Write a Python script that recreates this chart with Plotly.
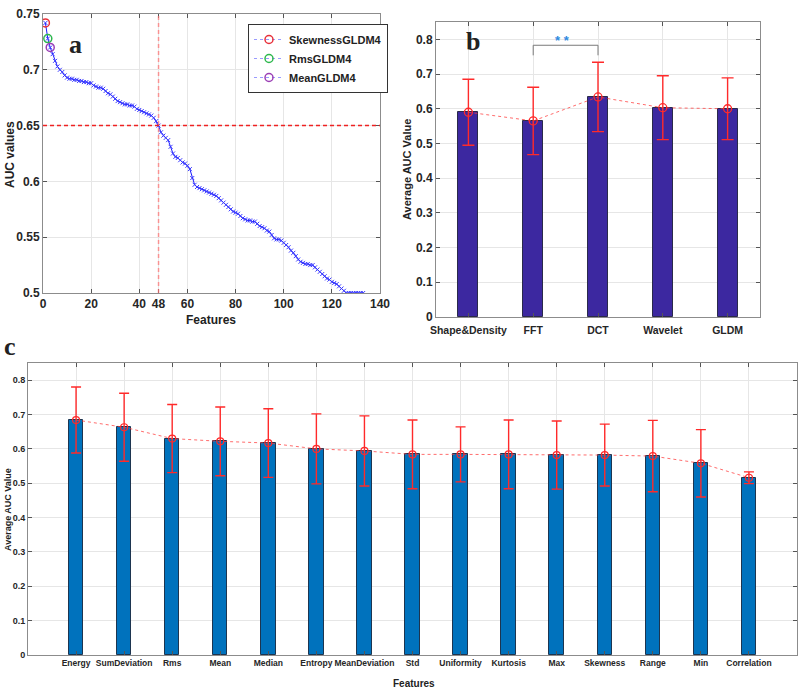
import plotly.graph_objects as go

# ---------------- Panel a data ----------------
auc_sorted = [
    0.742, 0.728, 0.720, 0.714, 0.708, 0.703, 0.700, 0.698, 0.695, 0.693,
    0.692, 0.692, 0.691, 0.691, 0.690, 0.690, 0.689, 0.689, 0.688, 0.688,
    0.686, 0.685, 0.684, 0.684, 0.683, 0.681, 0.679, 0.678, 0.676, 0.674,
    0.672, 0.671, 0.670, 0.669, 0.669, 0.668, 0.668, 0.667, 0.665, 0.664,
    0.663, 0.662, 0.661, 0.660, 0.659, 0.657, 0.654, 0.650, 0.644, 0.641,
    0.639, 0.637, 0.631, 0.625, 0.622, 0.621, 0.619, 0.617, 0.616, 0.614,
    0.611, 0.603, 0.597, 0.595, 0.594, 0.593, 0.592, 0.591, 0.590, 0.589,
    0.588, 0.587, 0.585, 0.583, 0.581, 0.579, 0.577, 0.575, 0.573, 0.572,
    0.571, 0.569, 0.567, 0.566, 0.565, 0.565, 0.564, 0.564, 0.562, 0.560,
    0.559, 0.558, 0.556, 0.555, 0.552, 0.549, 0.548, 0.548, 0.547, 0.545,
    0.543, 0.541, 0.538, 0.536, 0.533, 0.530, 0.528, 0.527, 0.526, 0.526,
    0.525, 0.525, 0.523, 0.521, 0.519, 0.517, 0.515, 0.513, 0.512, 0.510,
    0.509, 0.508, 0.506, 0.504, 0.502, 0.500, 0.500, 0.500, 0.500, 0.500,
    0.500, 0.500, 0.500,
]
feature_index = list(range(1, len(auc_sorted) + 1))
top_names = ["SkewnessGLDM4", "RmsGLDM4", "MeanGLDM4"]
top_colors = ["#e8303a", "#2db84d", "#9b3fb5"]
threshold_auc = 0.65
threshold_feature = 48
a_xticks = [0, 20, 40, 48, 60, 80, 100, 120, 140]
a_yticks = [0.5, 0.55, 0.6, 0.65, 0.7, 0.75]

# ---------------- Panel b data ----------------
b_categories = ["Shape&Density", "FFT", "DCT", "Wavelet", "GLDM"]
b_means = [0.590, 0.565, 0.634, 0.603, 0.600]
b_errors = [0.095, 0.097, 0.100, 0.092, 0.089]

# ---------------- Panel c data ----------------
c_categories = ["Energy", "SumDeviation", "Rms", "Mean", "Median", "Entropy",
                "MeanDeviation", "Std", "Uniformity", "Kurtosis", "Max",
                "Skewness", "Range", "Min", "Correlation"]
c_means = [0.684, 0.663, 0.630, 0.622, 0.617, 0.600, 0.594, 0.584, 0.584,
           0.584, 0.582, 0.582, 0.579, 0.558, 0.516]
c_errors = [0.096, 0.099, 0.099, 0.100, 0.100, 0.102, 0.102, 0.100, 0.080,
            0.100, 0.099, 0.090, 0.104, 0.098, 0.017]

W, H = 800, 690
def px(x):
    return x / W
def py(y):
    return 1 - y / H

FONT = "Liberation Sans, Arial, sans-serif"
GRID = "#e6e6e6"
AXC = "#8c8c8c"

fig = go.Figure()

# ---- panel a ----
fig.add_trace(go.Scatter(
    x=feature_index, y=auc_sorted, mode="lines+markers",
    line=dict(color="#1a1aff", width=1),
    marker=dict(symbol="x-thin", size=4, line=dict(color="#3a3aff", width=1)),
    xaxis="x", yaxis="y", showlegend=False, hoverinfo="skip"))
for i, (nm, col) in enumerate(zip(top_names, top_colors)):
    fig.add_trace(go.Scatter(
        x=[feature_index[i]], y=[auc_sorted[i]], mode="lines+markers", name=nm,
        line=dict(color="#9a9aff", width=1, dash="dot"),
        marker=dict(symbol="circle-open", size=8, color=col, line=dict(color=col, width=1.5)),
        xaxis="x", yaxis="y", showlegend=True))

# ---- panel b ----
b_x = list(range(len(b_categories)))
fig.add_trace(go.Bar(
    x=b_x, y=b_means, width=0.31,
    marker=dict(color="#3c28a0", line=dict(color="#2a2a4a", width=1)),
    xaxis="x2", yaxis="y2", showlegend=False))
fig.add_trace(go.Scatter(
    x=b_x, y=b_means, mode="lines+markers",
    line=dict(color="rgba(255,60,60,0.75)", width=1, dash="dot"),
    marker=dict(symbol="circle-open", size=8, color="#ff2a2a", line=dict(width=1.3)),
    error_y=dict(type="data", array=b_errors, visible=True, color="#ff2a2a",
                 thickness=1.4, width=6),
    xaxis="x2", yaxis="y2", showlegend=False))

# ---- panel c ----
c_x = list(range(len(c_categories)))
fig.add_trace(go.Bar(
    x=c_x, y=c_means, width=0.3,
    marker=dict(color="#0072bd", line=dict(color="#1d3550", width=1)),
    xaxis="x3", yaxis="y3", showlegend=False))
fig.add_trace(go.Scatter(
    x=c_x, y=c_means, mode="lines+markers",
    line=dict(color="rgba(255,60,60,0.75)", width=1, dash="dot"),
    marker=dict(symbol="circle-open", size=7, color="#ff2a2a", line=dict(width=1.2)),
    error_y=dict(type="data", array=c_errors, visible=True, color="#ff2a2a",
                 thickness=1.4, width=5),
    xaxis="x3", yaxis="y3", showlegend=False))

def axis(domain, rng, anchor, size, **kw):
    d = dict(domain=domain, range=rng, anchor=anchor, showline=True, linecolor=AXC,
             linewidth=1, mirror="ticks", ticks="inside", ticklen=4, tickcolor="#555",
             showgrid=True, gridcolor=GRID, zeroline=False, tickangle=0,
             tickfont=dict(family=FONT, size=size, color="#262626", weight="bold"))
    d.update(kw)
    return d

fig.update_layout(
    width=W, height=H, margin=dict(l=0, r=0, t=0, b=0, autoexpand=False),
    paper_bgcolor="white", plot_bgcolor="white",
    xaxis=axis([px(43), px(380)], [0, 140], "y", 12, tickvals=a_xticks),
    yaxis=axis([py(293), py(14)], [0.5, 0.75], "x", 12, tickvals=a_yticks,
               ticktext=["0.5", "0.55", "0.6", "0.65", "0.7", "0.75"]),
    xaxis2=axis([px(436), px(760)], [-0.5, 4.5], "y2", 10.5, tickvals=b_x,
                ticktext=b_categories, ticklabelstandoff=3),
    yaxis2=axis([py(317), py(22)], [0, 0.85], "x2", 12,
                tickvals=[0, 0.1, 0.2, 0.3, 0.4, 0.5, 0.6, 0.7, 0.8],
                ticktext=["0", "0.1", "0.2", "0.3", "0.4", "0.5", "0.6", "0.7", "0.8"]),
    xaxis3=axis([px(28), px(797)], [-1, 15], "y3", 8.5, tickvals=c_x,
                ticktext=c_categories),
    yaxis3=axis([py(655), py(363)], [0, 0.85], "x3", 9,
                tickvals=[0, 0.1, 0.2, 0.3, 0.4, 0.5, 0.6, 0.7, 0.8],
                ticktext=["0", "0.1", "0.2", "0.3", "0.4", "0.5", "0.6", "0.7", "0.8"]),
    legend=dict(x=px(248), y=py(24), xanchor="left", yanchor="top",
                bgcolor="white", bordercolor="#333", borderwidth=1,
                font=dict(family=FONT, size=11, color="#222", weight="bold"),
                tracegroupgap=0, itemwidth=30),
    bargap=0,
)

shapes = [
    dict(type="line", xref="x", yref="y domain", x0=threshold_feature, x1=threshold_feature,
         y0=0, y1=1, line=dict(color="rgba(255,110,110,0.7)", width=1.5, dash="4px,3px")),
    dict(type="line", xref="x domain", yref="y", x0=0, x1=1, y0=threshold_auc, y1=threshold_auc,
         line=dict(color="#ee2222", width=1.5, dash="4px,3px")),
    dict(type="path", xref="x2", yref="y2",
         path="M 1,0.754 L 1,0.783 L 2,0.783 L 2,0.754",
         line=dict(color="#7a7a7a", width=1)),
]
fig.update_layout(shapes=shapes)

ann = []
def text(x, y, s, size, angle=0, family=FONT, weight="bold", color="#222"):
    ann.append(dict(x=px(x), y=py(y), xref="paper", yref="paper", text=s,
                    showarrow=False, textangle=angle, xanchor="center", yanchor="middle",
                    font=dict(family=family, size=size, color=color, weight=weight)))

text(75, 45, "a", 26, family="Liberation Serif, Times New Roman, serif")
text(473, 42, "b", 26, family="Liberation Serif, Times New Roman, serif")
text(10, 346, "c", 26, family="Liberation Serif, Times New Roman, serif")
text(211, 320, "Features", 12)
text(10, 155, "AUC values", 12, angle=-90)
text(407, 170, "Average AUC Value", 11, angle=-90)
text(8, 510, "Average AUC Value", 9, angle=-90)
text(414, 683, "Features", 10)
text(562, 40, "* *", 13, color="#2f8ae0")
fig.update_layout(annotations=ann)

fig.write_html("out.html", config={"displayModeBar": False},
               post_script="document.body.style.margin='0';")
